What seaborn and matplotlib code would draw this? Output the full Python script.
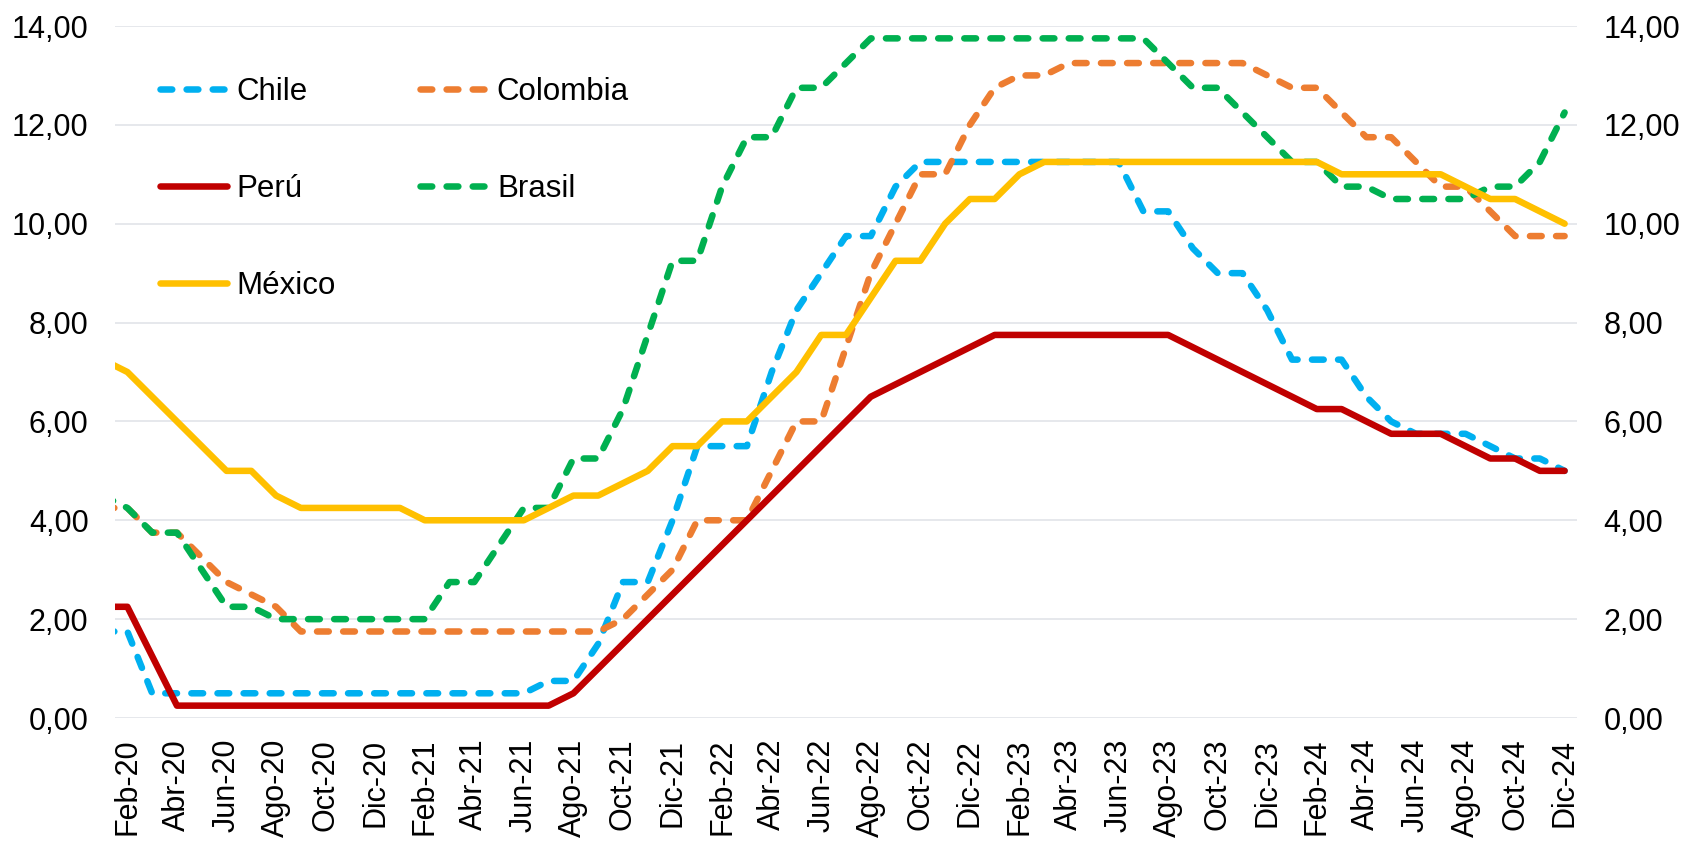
"""
Tasas de politica monetaria (%), Ene-20 a Dic-24.
Chile, Colombia, Peru, Brasil y Mexico en un grafico de lineas con doble eje.
"""

import matplotlib
matplotlib.use("Agg")
import matplotlib.pyplot as plt
import matplotlib.ticker as mticker
import seaborn as sns
import pandas as pd

sns.set_theme(style="white")
plt.rcParams["font.family"] = ["Liberation Sans", "DejaVu Sans"]

# --- Datos (fin de mes, %) -------------------------------------------------
MESES = ["Ene", "Feb", "Mar", "Abr", "May", "Jun",
         "Jul", "Ago", "Sep", "Oct", "Nov", "Dic"]
ANIOS = ["20", "21", "22", "23", "24"]
fechas = [f"{m}-{a}" for a in ANIOS for m in MESES]

chile = [1.75, 1.75, 0.50, 0.50, 0.50, 0.50, 0.50, 0.50, 0.50, 0.50, 0.50, 0.50,
         0.50, 0.50, 0.50, 0.50, 0.50, 0.50, 0.75, 0.75, 1.50, 2.75, 2.75, 4.00,
         5.50, 5.50, 5.50, 7.00, 8.25, 9.00, 9.75, 9.75, 10.75, 11.25, 11.25, 11.25,
         11.25, 11.25, 11.25, 11.25, 11.25, 11.25, 10.25, 10.25, 9.50, 9.00, 9.00, 8.25,
         7.25, 7.25, 7.25, 6.50, 6.00, 5.75, 5.75, 5.75, 5.50, 5.25, 5.25, 5.00]

colombia = [4.25, 4.25, 3.75, 3.75, 3.25, 2.75, 2.50, 2.25, 1.75, 1.75, 1.75, 1.75,
            1.75, 1.75, 1.75, 1.75, 1.75, 1.75, 1.75, 1.75, 1.75, 2.00, 2.50, 3.00,
            4.00, 4.00, 4.00, 5.00, 6.00, 6.00, 7.50, 9.00, 10.00, 11.00, 11.00, 12.00,
            12.75, 13.00, 13.00, 13.25, 13.25, 13.25, 13.25, 13.25, 13.25, 13.25, 13.25, 13.00,
            12.75, 12.75, 12.25, 11.75, 11.75, 11.25, 10.75, 10.75, 10.25, 9.75, 9.75, 9.75]

peru = [2.25, 2.25, 1.25, 0.25, 0.25, 0.25, 0.25, 0.25, 0.25, 0.25, 0.25, 0.25,
        0.25, 0.25, 0.25, 0.25, 0.25, 0.25, 0.25, 0.50, 1.00, 1.50, 2.00, 2.50,
        3.00, 3.50, 4.00, 4.50, 5.00, 5.50, 6.00, 6.50, 6.75, 7.00, 7.25, 7.50,
        7.75, 7.75, 7.75, 7.75, 7.75, 7.75, 7.75, 7.75, 7.50, 7.25, 7.00, 6.75,
        6.50, 6.25, 6.25, 6.00, 5.75, 5.75, 5.75, 5.50, 5.25, 5.25, 5.00, 5.00]

brasil = [4.50, 4.25, 3.75, 3.75, 3.00, 2.25, 2.25, 2.00, 2.00, 2.00, 2.00, 2.00,
          2.00, 2.00, 2.75, 2.75, 3.50, 4.25, 4.25, 5.25, 5.25, 6.25, 7.75, 9.25,
          9.25, 10.75, 11.75, 11.75, 12.75, 12.75, 13.25, 13.75, 13.75, 13.75, 13.75, 13.75,
          13.75, 13.75, 13.75, 13.75, 13.75, 13.75, 13.75, 13.25, 12.75, 12.75, 12.25, 11.75,
          11.25, 11.25, 10.75, 10.75, 10.50, 10.50, 10.50, 10.50, 10.75, 10.75, 11.25, 12.25]

mexico = [7.25, 7.00, 6.50, 6.00, 5.50, 5.00, 5.00, 4.50, 4.25, 4.25, 4.25, 4.25,
          4.25, 4.00, 4.00, 4.00, 4.00, 4.00, 4.25, 4.50, 4.50, 4.75, 5.00, 5.50,
          5.50, 6.00, 6.00, 6.50, 7.00, 7.75, 7.75, 8.50, 9.25, 9.25, 10.00, 10.50,
          10.50, 11.00, 11.25, 11.25, 11.25, 11.25, 11.25, 11.25, 11.25, 11.25, 11.25, 11.25,
          11.25, 11.25, 11.00, 11.00, 11.00, 11.00, 11.00, 10.75, 10.50, 10.50, 10.25, 10.00]

PAISES = ["Chile", "Colombia", "Perú", "Brasil", "México"]
COLORES = {"Chile": "#00B0F0", "Colombia": "#ED7D31", "Perú": "#C00000",
           "Brasil": "#00B050", "México": "#FFC000"}
DASH = (0, (1.8, 2.2))
ESTILOS = {"Chile": DASH, "Colombia": DASH, "Perú": "-", "Brasil": DASH, "México": "-"}

df = pd.DataFrame({"idx": range(len(fechas)), "fecha": fechas,
                   "Chile": chile, "Colombia": colombia, "Perú": peru,
                   "Brasil": brasil, "México": mexico})

# --- Grafico ---------------------------------------------------------------
W, H = 1687, 841
fig = plt.figure(figsize=(W / 100, H / 100), dpi=100)
ax = fig.add_axes([115 / W, 1 - 718 / H, (1577 - 115) / W, (718 - 26) / H])

for pais in PAISES:
    sns.lineplot(data=df, x="idx", y=pais, ax=ax, color=COLORES[pais],
                 linewidth=4.7, linestyle=ESTILOS[pais], label=pais,
                 dash_capstyle="round", solid_capstyle="round",
                 dash_joinstyle="round", solid_joinstyle="round")

ax.set_xlabel("")
ax.set_ylabel("")
ax.set_xlim(0.5, 59.5)
ax.set_ylim(0, 14)
ax.set_yticks(range(0, 15, 2))
ax.yaxis.set_major_formatter(mticker.FuncFormatter(lambda v, _: f"{v:.2f}".replace(".", ",")))
pos = list(range(1, len(fechas), 2))
ax.set_xticks(pos)
ax.set_xticklabels([fechas[i] for i in pos], rotation=90)

ax.tick_params(axis="y", length=0, pad=19, labelsize=22, labelright=True, colors="black")
ax.tick_params(axis="x", length=0, pad=15, labelsize=22, colors="black")
ax.grid(axis="y", color="#E1E4E9", linewidth=1.2)
ax.grid(axis="x", visible=False)
ax.set_axisbelow(True)
for s in ax.spines.values():
    s.set_visible(False)

handles, labels = ax.get_legend_handles_labels()
hmap = dict(zip(labels, handles))
orden = ["Chile", "Perú", "México", "Colombia", "Brasil"]
ax.legend([hmap[p] for p in orden], orden, ncol=2, frameon=False,
          loc="upper left", bbox_to_anchor=(160 / W, 1 - 77 / H),
          bbox_transform=fig.transFigure, fontsize=22.5, labelcolor="black",
          handlelength=2.15, handletextpad=0.3, columnspacing=2.7,
          labelspacing=2.15, borderpad=0, borderaxespad=0)

fig.savefig("out.png", dpi=100)
plt.close(fig)
